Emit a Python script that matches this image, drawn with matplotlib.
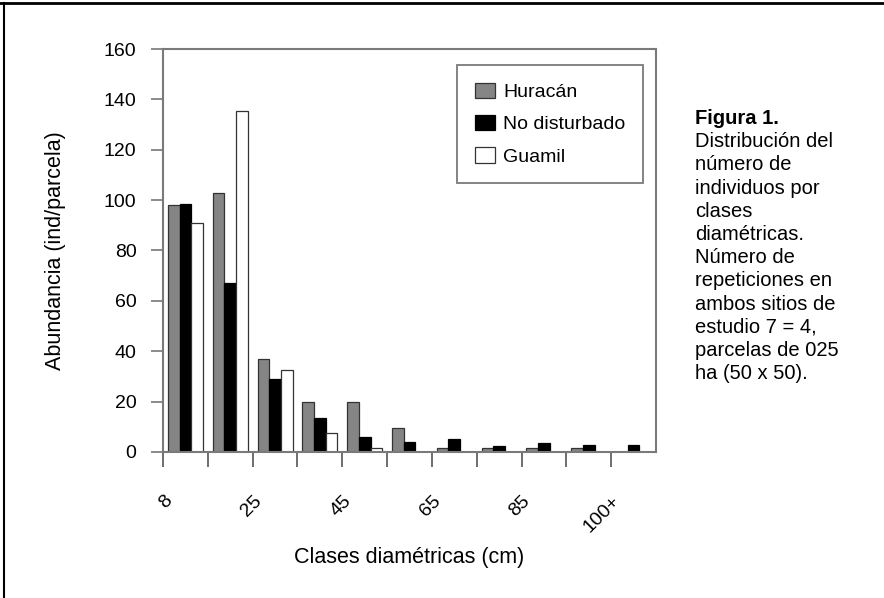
import matplotlib
matplotlib.use("Agg")
import matplotlib.pyplot as plt
import numpy as np
from matplotlib.lines import Line2D

plt.rcParams['font.family'] = ['Liberation Sans', 'DejaVu Sans']

# ---- data ----
tick_labels = ['8', '', '25', '', '45', '', '65', '', '85', '', '100+']
series_names = ['Huracán', 'No disturbado', 'Guamil']
huracan = [98, 103, 37, 20, 20, 9.7, 1.7, 1.7, 1.7, 1.7, 0]
no_disturbado = [98.5, 67, 29, 13.4, 6, 3.9, 5, 2.4, 3.6, 2.9, 2.7]
guamil = [91, 135.4, 32.6, 7.4, 1.7, 0, 0, 0, 0, 0, 0]
y_ticks = [0, 20, 40, 60, 80, 100, 120, 140, 160]
caption_title = 'Figura 1.'
caption_lines = ['Distribución del', 'número de', 'individuos por', 'clases',
                 'diamétricas.', 'Número de', 'repeticiones en', 'ambos sitios de',
                 'estudio 7 = 4,', 'parcelas de 025', 'ha (50 x 50).']

W, H = 884, 598
fig = plt.figure(figsize=(W / 100, H / 100), dpi=100)
ax = fig.add_axes([163 / W, (H - 452) / H, 493 / W, 403 / H])

n = len(huracan)
x = np.arange(n) + 0.5
bw = 0.26
spine_col = '#7a7a7a'
ax.bar(x - bw, huracan, bw, color='#858585', edgecolor='#333333', linewidth=0.9, label=series_names[0])
ax.bar(x, no_disturbado, bw, color='black', edgecolor='black', linewidth=0.9, label=series_names[1])
ax.bar(x + bw, guamil, bw, color='white', edgecolor='#333333', linewidth=0.9, label=series_names[2])

ax.set_xlim(0, n)
ax.set_ylim(0, 160)
ax.set_yticks(y_ticks)
# tick marks at class boundaries (no labels)
ax.set_xticks(np.arange(len(tick_labels)))
ax.set_xticklabels([''] * len(tick_labels))
# labels carried by zero-length minor ticks, nudged slightly right
ax.set_xticks(np.arange(len(tick_labels)) + 0.14, minor=True)
ax.set_xticklabels(tick_labels, minor=True, rotation=45, ha='right', va='center',
                   rotation_mode='anchor')

ax.tick_params(axis='x', which='major', direction='out', length=11, width=1.2, color='#555555')
ax.tick_params(axis='x', which='minor', length=0, pad=19 + 11 + 3.5, labelsize=14)
ax.tick_params(axis='y', direction='out', length=8.6, width=1.2, color='#777777', pad=10.5, labelsize=14)
for s in ax.spines.values():
    s.set_color(spine_col)
    s.set_linewidth(1.5)

ax.set_xlabel('Clases diamétricas (cm)', fontsize=15.5)
ax.xaxis.label.set_va('center')
ax.xaxis.set_label_coords(0.5, (452 - 557) / 403)
ax.set_ylabel('Abundancia (ind/parcela)', fontsize=15.5)
ax.yaxis.label.set_va('center')
ax.yaxis.set_label_coords((55 - 163) / 493, 0.5)

leg = ax.legend(loc='upper left', bbox_to_anchor=((457 - 163) / 493, (452 - 65) / 403),
                borderaxespad=0, fontsize=14, frameon=True, fancybox=False,
                framealpha=1, edgecolor=spine_col, handlelength=1.03, handleheight=0.87,
                handletextpad=0.45, labelspacing=0.7, borderpad=0.9)
leg.get_frame().set_linewidth(1.3)

# caption
x0 = 695 / W
y0 = 118.5
dy = 23.2
fig.text(x0, 1 - y0 / H, caption_title, fontsize=14.5, fontweight='bold', va='center', ha='left')
for i, line in enumerate(caption_lines):
    fig.text(x0, 1 - (y0 + dy * (i + 1)) / H, line, fontsize=14.5, va='center', ha='left')

# page frame lines
fig.add_artist(Line2D([0, 1], [1 - 3 / H, 1 - 3 / H], transform=fig.transFigure, color='black', lw=2))
fig.add_artist(Line2D([4 / W, 4 / W], [0, 1 - 3 / H], transform=fig.transFigure, color='black', lw=1.5))

fig.savefig('out.png', dpi=100)
